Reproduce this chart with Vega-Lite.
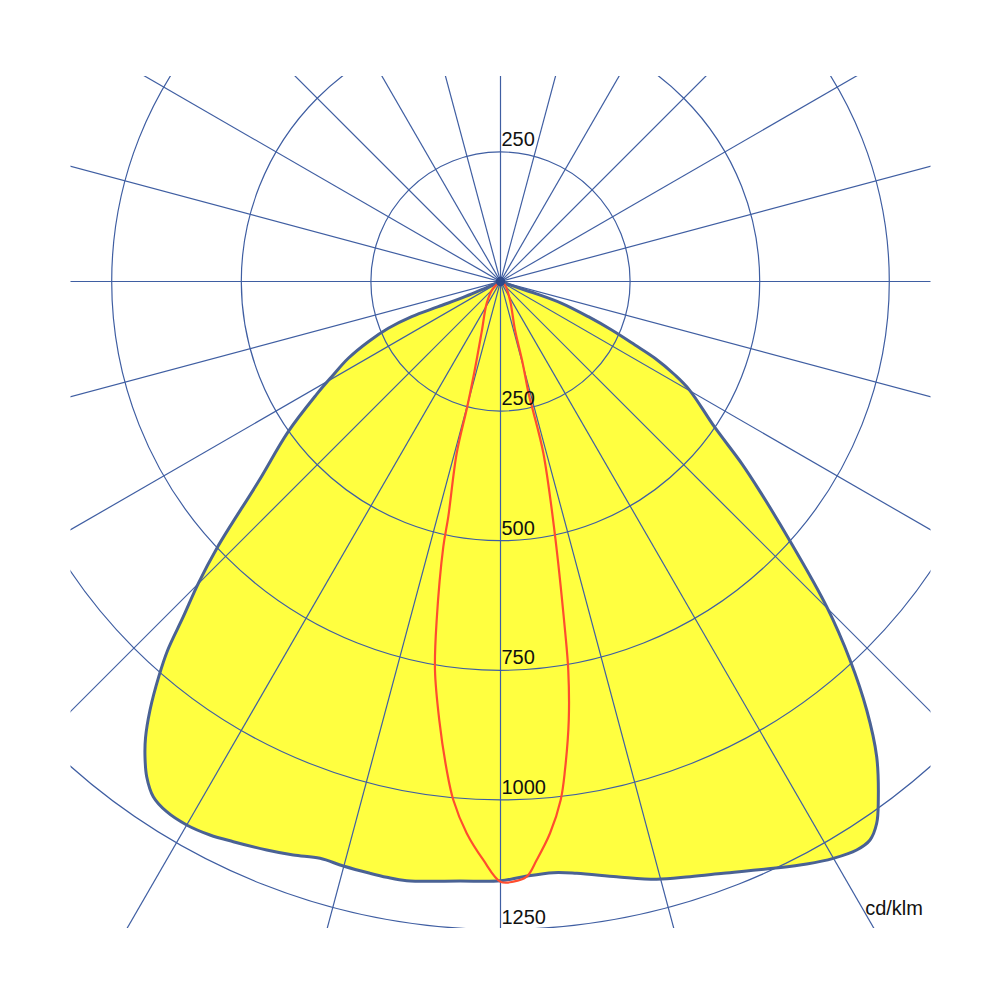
{
  "$schema": "https://vega.github.io/schema/vega-lite/v6.json",
  "width": 860,
  "height": 852,
  "autosize": {"type": "none"},
  "padding": {"left": 70.5, "top": 76, "right": 0, "bottom": 0},
  "background": "white",
  "config": {"view": {"stroke": null}},
  "datasets": {
    "shape": [
      {"i": 1, "x": 0, "y": 0},
      {"i": 2, "x": 28.0, "y": -10.0},
      {"i": 3, "x": 66.6, "y": -22.8},
      {"i": 4, "x": 118.1, "y": -42.1},
      {"i": 5, "x": 169.4, "y": -67.9},
      {"i": 6, "x": 214.5, "y": -93.6},
      {"i": 7, "x": 259.5, "y": -122.5},
      {"i": 8, "x": 298.0, "y": -148.1},
      {"i": 9, "x": 336.6, "y": -180.4},
      {"i": 10, "x": 364.3, "y": -209.0},
      {"i": 11, "x": 412.5, "y": -280.1},
      {"i": 12, "x": 466.4, "y": -352.7},
      {"i": 13, "x": 502.6, "y": -408.2},
      {"i": 14, "x": 558.4, "y": -500.6},
      {"i": 15, "x": 629.2, "y": -627.3},
      {"i": 16, "x": 674.2, "y": -730.1},
      {"i": 17, "x": 706.4, "y": -826.6},
      {"i": 18, "x": 725.7, "y": -916.7},
      {"i": 19, "x": 728.8, "y": -1000.2},
      {"i": 20, "x": 725.7, "y": -1045.1},
      {"i": 21, "x": 712.8, "y": -1077.3},
      {"i": 22, "x": 687.1, "y": -1096.6},
      {"i": 23, "x": 642.0, "y": -1112.7},
      {"i": 24, "x": 590.7, "y": -1123.6},
      {"i": 25, "x": 526.2, "y": -1131.9},
      {"i": 26, "x": 429.8, "y": -1141.6},
      {"i": 27, "x": 365.5, "y": -1148.1},
      {"i": 28, "x": 301.3, "y": -1153.2},
      {"i": 29, "x": 224.2, "y": -1148.1},
      {"i": 30, "x": 147.0, "y": -1141.6},
      {"i": 31, "x": 101.9, "y": -1140.4},
      {"i": 32, "x": 44.0, "y": -1148.1},
      {"i": 33, "x": 0, "y": -1155.9},
      {"i": 34, "x": -78.1, "y": -1156.4},
      {"i": 35, "x": -180.9, "y": -1155.9},
      {"i": 36, "x": -219.5, "y": -1149.3},
      {"i": 37, "x": -251.7, "y": -1141.6},
      {"i": 38, "x": -303.2, "y": -1127.5},
      {"i": 39, "x": -348.2, "y": -1112.7},
      {"i": 40, "x": -399.7, "y": -1106.3},
      {"i": 41, "x": -451.0, "y": -1096.6},
      {"i": 42, "x": -515.4, "y": -1080.6},
      {"i": 43, "x": -560.4, "y": -1067.7},
      {"i": 44, "x": -605.3, "y": -1048.4},
      {"i": 45, "x": -643.9, "y": -1022.8},
      {"i": 46, "x": -669.8, "y": -993.8},
      {"i": 47, "x": -682.5, "y": -955.2},
      {"i": 48, "x": -685.8, "y": -916.7},
      {"i": 49, "x": -684.8, "y": -880.5},
      {"i": 50, "x": -676.1, "y": -826.6},
      {"i": 51, "x": -658.8, "y": -760.8},
      {"i": 52, "x": -641.9, "y": -710.8},
      {"i": 53, "x": -611.9, "y": -646.6},
      {"i": 54, "x": -582.9, "y": -582.2},
      {"i": 55, "x": -545.5, "y": -511.6},
      {"i": 56, "x": -466.9, "y": -385.9},
      {"i": 57, "x": -410.1, "y": -290.5},
      {"i": 58, "x": -355.5, "y": -218.7},
      {"i": 59, "x": -325.6, "y": -183.6},
      {"i": 60, "x": -293.6, "y": -148.1},
      {"i": 61, "x": -255.0, "y": -116.1},
      {"i": 62, "x": -216.4, "y": -90.3},
      {"i": 63, "x": -171.3, "y": -67.9},
      {"i": 64, "x": -120.0, "y": -48.6},
      {"i": 65, "x": -68.5, "y": -29.3},
      {"i": 66, "x": -29.9, "y": -13.1},
      {"i": 67, "x": 0, "y": 0}
    ],
    "beam": [
      {"i": 1, "x": 0, "y": 0},
      {"i": 2, "x": 8.7, "y": -6.8},
      {"i": 3, "x": 18.3, "y": -35.7},
      {"i": 4, "x": 28.0, "y": -93.6},
      {"i": 5, "x": 41.5, "y": -151.4},
      {"i": 6, "x": 55.6, "y": -222.2},
      {"i": 7, "x": 63.3, "y": -251.5},
      {"i": 8, "x": 82.6, "y": -330.7},
      {"i": 9, "x": 103.9, "y": -479.4},
      {"i": 10, "x": 124.4, "y": -672.3},
      {"i": 11, "x": 130.7, "y": -749.4},
      {"i": 12, "x": 131.7, "y": -845.9},
      {"i": 13, "x": 124.4, "y": -942.3},
      {"i": 14, "x": 116.1, "y": -1000.2},
      {"i": 15, "x": 95.5, "y": -1064.4},
      {"i": 16, "x": 69.8, "y": -1115.9},
      {"i": 17, "x": 50.5, "y": -1148.1},
      {"i": 18, "x": 24.7, "y": -1157.8},
      {"i": 19, "x": 0, "y": -1157.8},
      {"i": 20, "x": -33.2, "y": -1115.9},
      {"i": 21, "x": -65.2, "y": -1064.4},
      {"i": 22, "x": -91.0, "y": -1000.2},
      {"i": 23, "x": -103.8, "y": -942.3},
      {"i": 24, "x": -118.1, "y": -845.9},
      {"i": 25, "x": -126.4, "y": -749.4},
      {"i": 26, "x": -123.1, "y": -653.0},
      {"i": 27, "x": -110.3, "y": -511.6},
      {"i": 28, "x": -100.7, "y": -453.7},
      {"i": 29, "x": -84.5, "y": -331.4},
      {"i": 30, "x": -64.1, "y": -241.5},
      {"i": 31, "x": -50.6, "y": -175.7},
      {"i": 32, "x": -36.3, "y": -97.2},
      {"i": 33, "x": -26.6, "y": -42.1},
      {"i": 34, "x": -15.0, "y": -14.4},
      {"i": 35, "x": 0, "y": 0}
    ],
    "rays": [
      {"x1": -2500, "y1": 0, "x2": 2500, "y2": 0},
      {"x1": -2414.8, "y1": -647.0, "x2": 2414.8, "y2": 647.0},
      {"x1": -2165.1, "y1": -1250, "x2": 2165.1, "y2": 1250},
      {"x1": -1767.8, "y1": -1767.8, "x2": 1767.8, "y2": 1767.8},
      {"x1": -1250, "y1": -2165.1, "x2": 1250, "y2": 2165.1},
      {"x1": -647.0, "y1": -2414.8, "x2": 647.0, "y2": 2414.8},
      {"x1": 0, "y1": -2500, "x2": 0, "y2": 2500},
      {"x1": 647.0, "y1": -2414.8, "x2": -647.0, "y2": 2414.8},
      {"x1": 1250, "y1": -2165.1, "x2": -1250, "y2": 2165.1},
      {"x1": 1767.8, "y1": -1767.8, "x2": -1767.8, "y2": 1767.8},
      {"x1": 2165.1, "y1": -1250, "x2": -2165.1, "y2": 1250},
      {"x1": 2414.8, "y1": -647.0, "x2": -2414.8, "y2": 647.0}
    ],
    "rings": [
      {"r": 250}, {"r": 500}, {"r": 750}, {"r": 1000}, {"r": 1250}
    ],
    "labels": [
      {"t": "250", "x": 0, "y": 250},
      {"t": "250", "x": 0, "y": -250},
      {"t": "500", "x": 0, "y": -500},
      {"t": "750", "x": 0, "y": -750},
      {"t": "1000", "x": 0, "y": -1000},
      {"t": "1250", "x": 0, "y": -1250}
    ]
  },
  "layer": [
    {
      "data": {"name": "shape"},
      "mark": {"type": "line", "fill": "#ffff40", "stroke": "#ffff40", "strokeWidth": 0.5, "interpolate": "catmull-rom", "clip": true},
      "encoding": {
        "x": {"field": "x", "type": "quantitative", "scale": {"domain": [-829.5, 829.5], "nice": false, "zero": false}, "axis": null},
        "y": {"field": "y", "type": "quantitative", "scale": {"domain": [-1247.1, 396.4], "nice": false, "zero": false}, "axis": null},
        "order": {"field": "i", "type": "quantitative"}
      }
    },
    {
      "data": {"name": "rays"},
      "mark": {"type": "rule", "color": "#3f5ea2", "strokeWidth": 1.2, "clip": true},
      "encoding": {
        "x": {"field": "x1", "type": "quantitative", "scale": {"domain": [-829.5, 829.5], "nice": false, "zero": false}, "axis": null},
        "y": {"field": "y1", "type": "quantitative", "scale": {"domain": [-1247.1, 396.4], "nice": false, "zero": false}, "axis": null},
        "x2": {"field": "x2"},
        "y2": {"field": "y2"}
      }
    },
    {
      "data": {"name": "rings"},
      "mark": {"type": "point", "shape": "circle", "filled": false, "color": "#3f5ea2", "stroke": "#3f5ea2", "strokeWidth": 1.2, "opacity": 1, "clip": true},
      "encoding": {
        "x": {"datum": 0, "type": "quantitative", "scale": {"domain": [-829.5, 829.5], "nice": false, "zero": false}, "axis": null},
        "y": {"datum": 0, "type": "quantitative", "scale": {"domain": [-1247.1, 396.4], "nice": false, "zero": false}, "axis": null},
        "size": {"field": "r", "type": "quantitative", "scale": {"type": "pow", "exponent": 2, "domain": [0, 1250], "range": [0, 1679616]}, "legend": null}
      }
    },
    {
      "data": {"name": "shape"},
      "mark": {"type": "line", "stroke": "#4a6294", "strokeWidth": 3, "strokeJoin": "round", "interpolate": "catmull-rom", "clip": true},
      "encoding": {
        "x": {"field": "x", "type": "quantitative", "scale": {"domain": [-829.5, 829.5], "nice": false, "zero": false}, "axis": null},
        "y": {"field": "y", "type": "quantitative", "scale": {"domain": [-1247.1, 396.4], "nice": false, "zero": false}, "axis": null},
        "order": {"field": "i", "type": "quantitative"}
      }
    },
    {
      "data": {"name": "beam"},
      "mark": {"type": "line", "stroke": "#ff4d2e", "strokeWidth": 2.2, "strokeJoin": "round", "interpolate": "catmull-rom", "clip": true},
      "encoding": {
        "x": {"field": "x", "type": "quantitative", "scale": {"domain": [-829.5, 829.5], "nice": false, "zero": false}, "axis": null},
        "y": {"field": "y", "type": "quantitative", "scale": {"domain": [-1247.1, 396.4], "nice": false, "zero": false}, "axis": null},
        "order": {"field": "i", "type": "quantitative"}
      }
    },
    {
      "data": {"values": [{"c": "centre"}]},
      "mark": {"type": "point", "shape": "circle", "filled": true, "color": "#2e4a8c", "size": 90, "opacity": 1},
      "encoding": {
        "x": {"datum": 0, "type": "quantitative", "scale": {"domain": [-829.5, 829.5], "nice": false, "zero": false}, "axis": null},
        "y": {"datum": 0, "type": "quantitative", "scale": {"domain": [-1247.1, 396.4], "nice": false, "zero": false}, "axis": null}
      }
    },
    {
      "data": {"name": "labels"},
      "mark": {"type": "text", "align": "left", "baseline": "alphabetic", "dx": 1, "dy": -6, "font": "Liberation Sans", "fontSize": 20, "color": "#111111"},
      "encoding": {
        "x": {"field": "x", "type": "quantitative", "scale": {"domain": [-829.5, 829.5], "nice": false, "zero": false}, "axis": null},
        "y": {"field": "y", "type": "quantitative", "scale": {"domain": [-1247.1, 396.4], "nice": false, "zero": false}, "axis": null},
        "text": {"field": "t"}
      }
    },
    {
      "data": {"values": [{"t": "cd/klm"}]},
      "mark": {"type": "text", "align": "right", "baseline": "alphabetic", "font": "Liberation Sans", "fontSize": 20, "color": "#111111"},
      "encoding": {
        "x": {"datum": 815, "type": "quantitative", "scale": {"domain": [-829.5, 829.5], "nice": false, "zero": false}, "axis": null},
        "y": {"datum": -1222, "type": "quantitative", "scale": {"domain": [-1247.1, 396.4], "nice": false, "zero": false}, "axis": null},
        "text": {"field": "t"}
      }
    }
  ]
}
